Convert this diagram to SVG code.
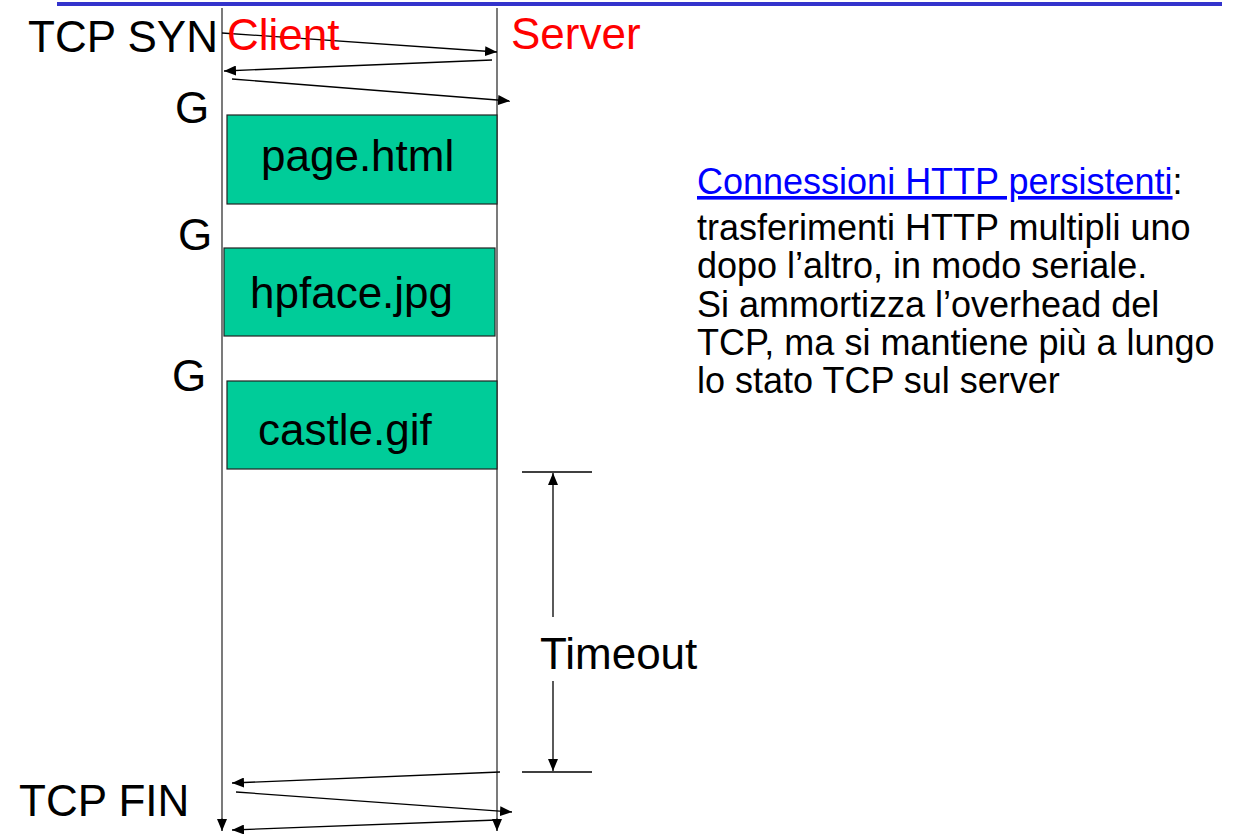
<svg xmlns="http://www.w3.org/2000/svg" width="1244" height="834" viewBox="0 0 1244 834">
<defs>
<marker id="ah" markerWidth="12" markerHeight="10" refX="12" refY="5" orient="auto" markerUnits="userSpaceOnUse">
<path d="M0,0 L12,5 L0,10 Z" fill="#000"/>
</marker>
<style>
.t{font-family:"Liberation Sans",Arial,sans-serif;fill:#000}
.big{font-size:44px}
.red{fill:#ff0000}
.box{fill:#00cc99;stroke:#222;stroke-width:1.2}
.life{stroke:#333;stroke-width:1.3;fill:none}
.msg{stroke:#000;stroke-width:1.3;fill:none;marker-end:url(#ah)}
.dim{stroke:#000;stroke-width:1.3;fill:none}
.side{font-size:36px}
</style>
</defs>
<rect width="1244" height="834" fill="#fff"/>
<rect x="57" y="2" width="1165" height="4" fill="#3333cc"/>

<g id="connectors">
<line class="life" x1="222" y1="8" x2="222" y2="818"/>
<line class="msg" x1="222" y1="818" x2="222" y2="831"/>
<line class="life" x1="497" y1="8" x2="497" y2="818"/>
<line class="msg" x1="497" y1="818" x2="497" y2="831"/>
<line class="msg" x1="222" y1="33" x2="497" y2="52"/>
<line class="msg" x1="492" y1="60" x2="224" y2="71"/>
<line class="msg" x1="232" y1="79" x2="510" y2="101"/>
<line class="msg" x1="500" y1="772" x2="232" y2="783"/>
<line class="msg" x1="236" y1="792" x2="512" y2="812"/>
<line class="msg" x1="497" y1="820" x2="232" y2="830"/>
</g>

<g id="timeout">
<line class="dim" x1="522" y1="472" x2="592" y2="472"/>
<line class="dim" x1="522" y1="772" x2="592" y2="772"/>
<line class="msg" x1="553" y1="617" x2="553" y2="473"/>
<line class="msg" x1="553" y1="681" x2="553" y2="771"/>
<text class="t big" x="540" y="669">Timeout</text>
</g>

<g id="labels">
<text class="t big" x="28" y="52">TCP SYN</text>
<text class="t big red" x="227" y="50">Client</text>
<text class="t big red" x="511" y="49">Server</text>
<text class="t big" x="19" y="816">TCP FIN</text>
<text class="t big" x="175" y="123">G</text>
<text class="t big" x="178" y="250">G</text>
<text class="t big" x="172" y="391">G</text>
</g>

<g id="page">
<rect class="box" x="227" y="115" width="270" height="89"/>
<text class="t big" x="261" y="171">page.html</text>
</g>
<g id="hpface">
<rect class="box" x="224" y="248" width="271" height="88"/>
<text class="t big" x="250" y="308">hpface.jpg</text>
</g>
<g id="castle">
<rect class="box" x="227" y="381" width="270" height="88"/>
<text class="t big" x="258" y="445">castle.gif</text>
</g>

<g id="note">
<text class="t side" x="697" y="194"><tspan fill="#0000ff" text-decoration="underline">Connessioni HTTP persistenti</tspan>:</text>
<text class="t side" x="697" y="240">trasferimenti HTTP multipli uno</text>
<text class="t side" x="697" y="278">dopo l’altro, in modo seriale.</text>
<text class="t side" x="697" y="317">Si ammortizza l’overhead del</text>
<text class="t side" x="697" y="355">TCP, ma si mantiene più a lungo</text>
<text class="t side" x="697" y="393">lo stato TCP sul server</text>
</g>
</svg>
